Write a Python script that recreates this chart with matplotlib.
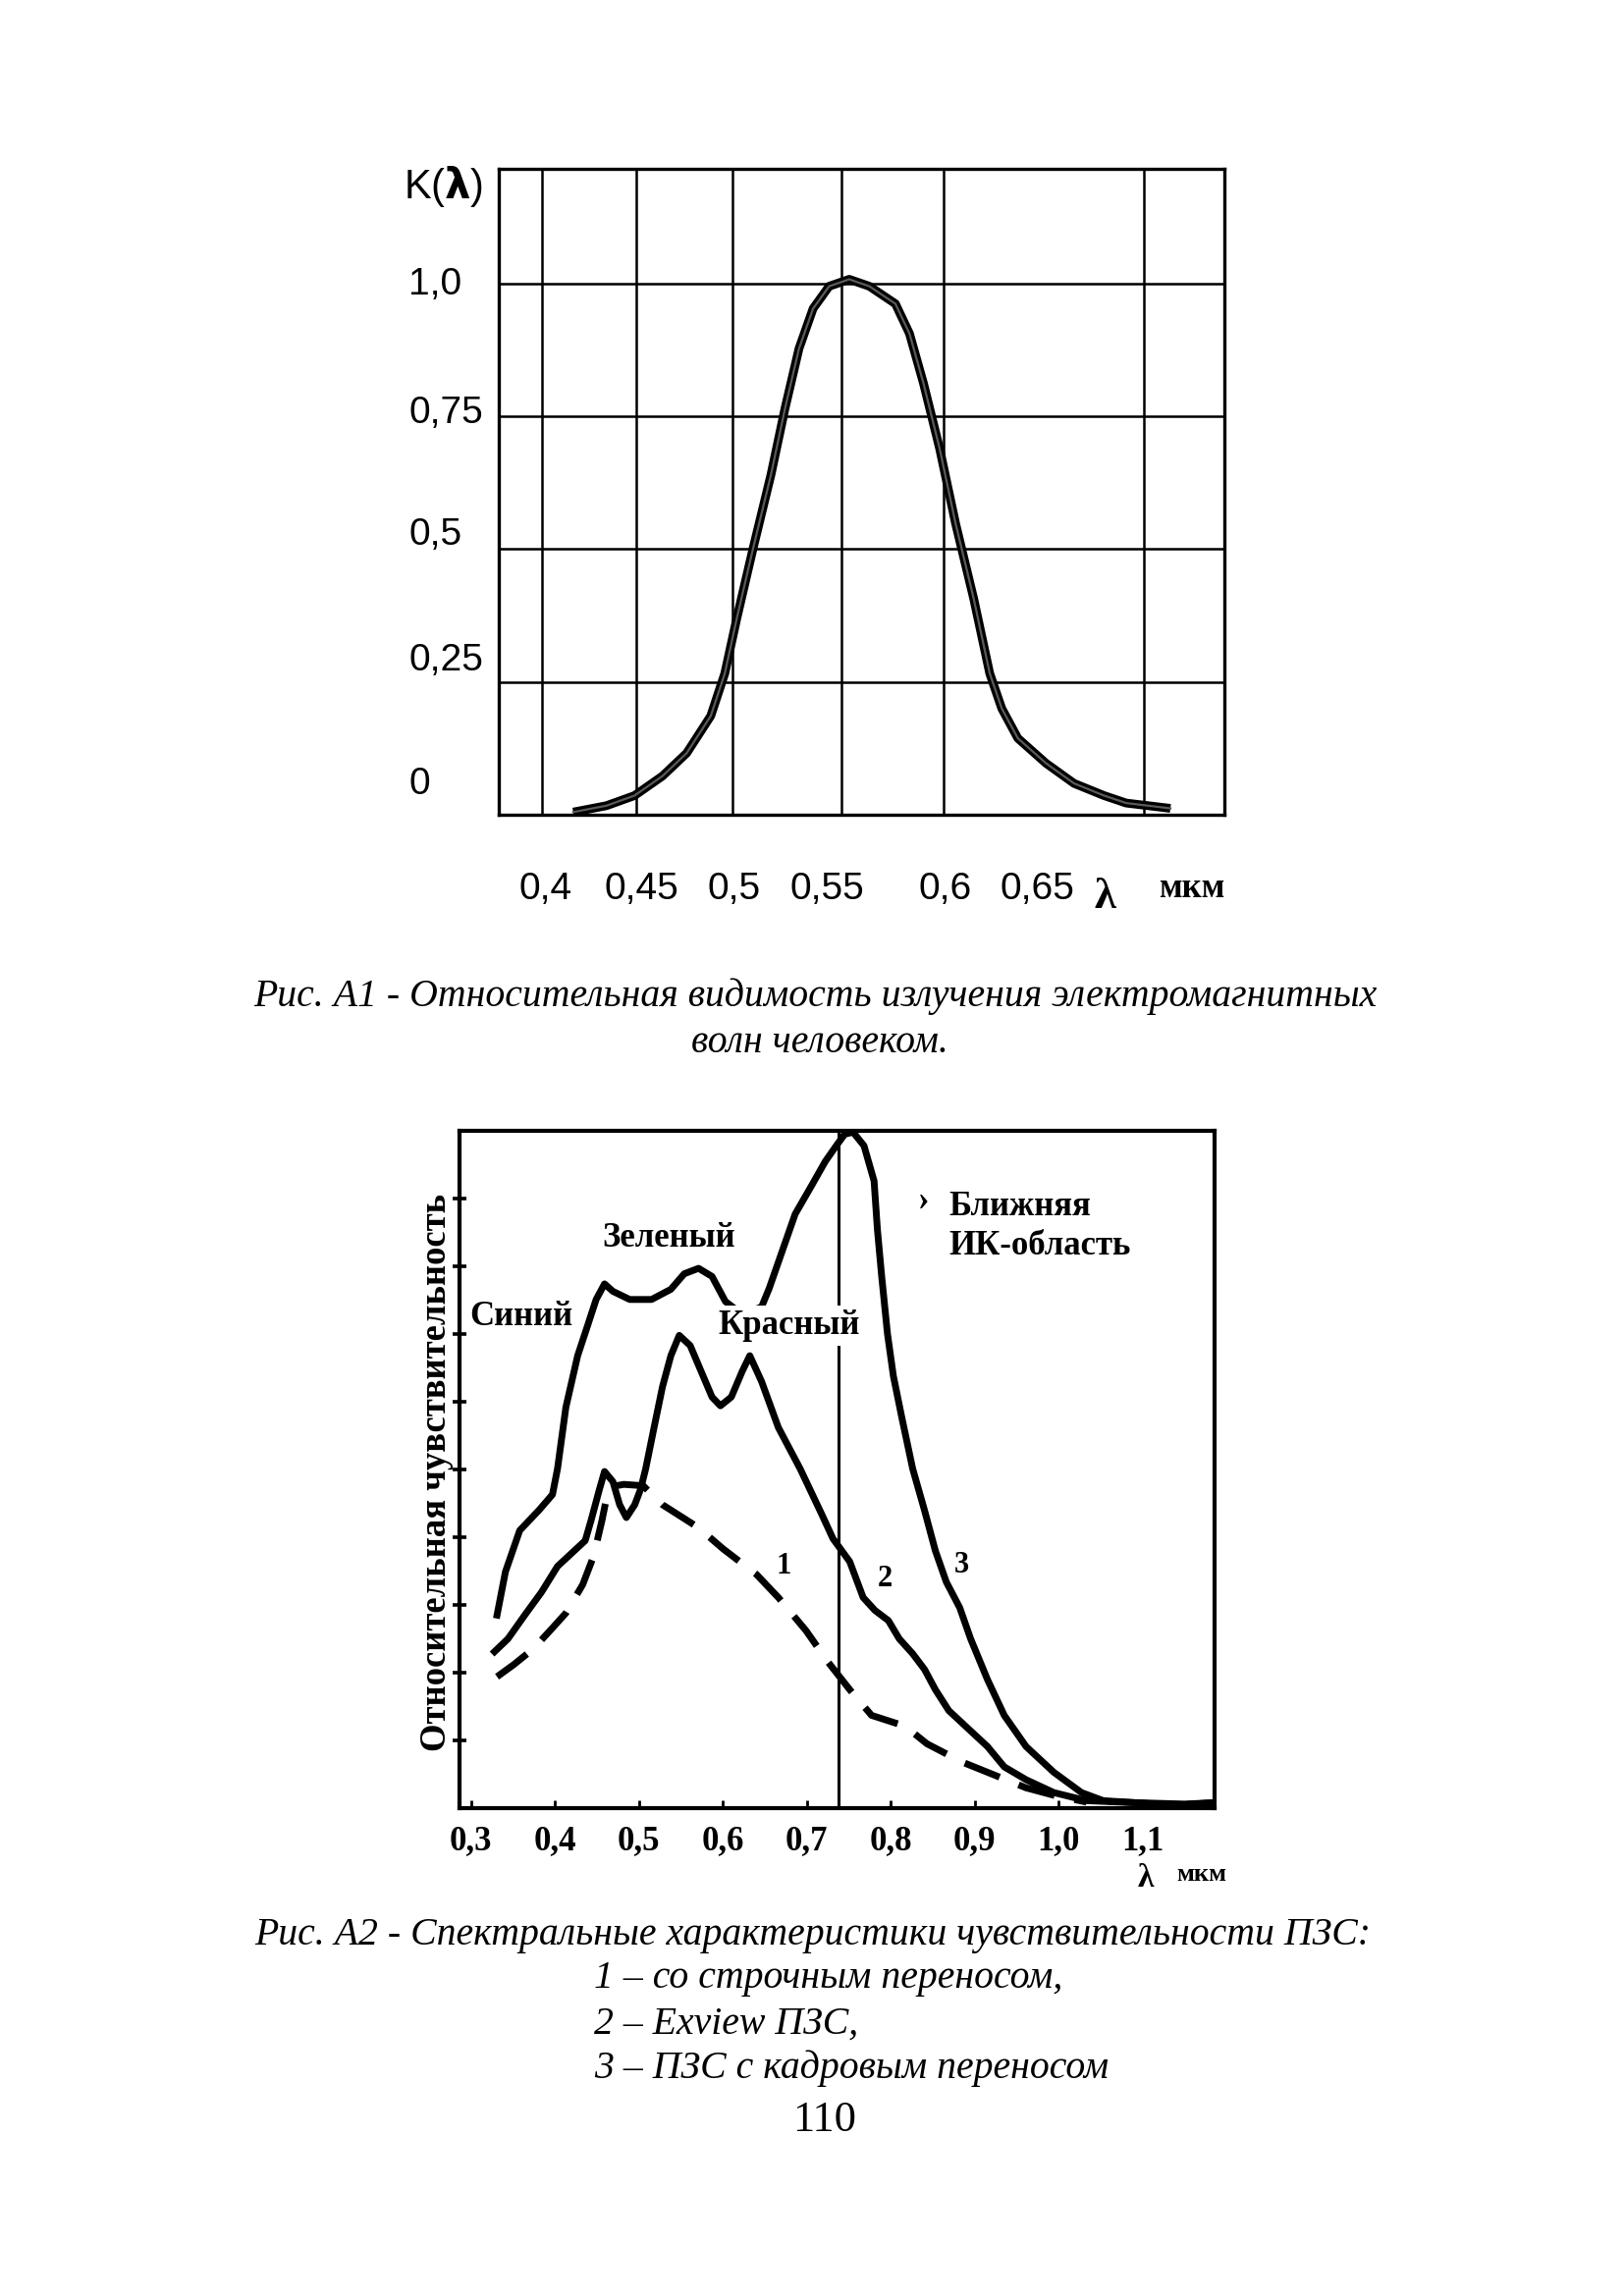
import matplotlib

matplotlib.use("Agg")
import matplotlib.pyplot as plt

W, H = 1654, 2339
DPI = 200

# --- Рис. А1: относительная видимость K(λ) ---
vis_wl = [0.4155, 0.432, 0.446, 0.460, 0.472, 0.484, 0.491, 0.497, 0.505, 0.514,
          0.521, 0.528, 0.535, 0.543, 0.553, 0.563, 0.576, 0.583, 0.590, 0.598,
          0.606, 0.615, 0.623, 0.629, 0.637, 0.651, 0.665, 0.680, 0.691, 0.713]
vis_k = [0.005, 0.017, 0.036, 0.073, 0.116, 0.186, 0.266, 0.37, 0.50, 0.64,
         0.765, 0.878, 0.953, 0.995, 1.008, 0.995, 0.962, 0.906, 0.812, 0.69,
         0.548, 0.407, 0.266, 0.20, 0.144, 0.097, 0.059, 0.036, 0.022, 0.012]
vis_grid_x = [0.4, 0.447, 0.495, 0.549, 0.6, 0.7]
vis_grid_y = [0.25, 0.5, 0.75, 1.0]
vis_xtick_pos = [0.4015, 0.4494, 0.4954, 0.5418, 0.601, 0.6467]
vis_xtick_lab = ["0,4", "0,45", "0,5", "0,55", "0,6", "0,65"]
vis_ytick_pos = [1.005, 0.764, 0.535, 0.298, 0.064]
vis_ytick_lab = ["1,0", "0,75", "0,5", "0,25", "0"]

# --- Рис. А2: спектральная чувствительность ПЗС ---
# 1 - со строчным переносом
ccd1_wl = [0.331, 0.351, 0.374, 0.397, 0.413, 0.433, 0.446, 0.456, 0.464, 0.482,
           0.505, 0.528, 0.571, 0.600, 0.640, 0.666, 0.699, 0.725, 0.751, 0.777,
           0.817, 0.843, 0.885, 0.915, 0.961, 0.994, 1.033]
ccd1_s = [0.194, 0.212, 0.235, 0.266, 0.288, 0.330, 0.372, 0.425, 0.474, 0.478,
          0.476, 0.448, 0.414, 0.383, 0.345, 0.311, 0.262, 0.216, 0.175, 0.137,
          0.121, 0.095, 0.068, 0.053, 0.030, 0.019, 0.009]
# 2 - Exview ПЗС
ccd2_wl = [0.328, 0.344, 0.364, 0.384, 0.403, 0.423, 0.436, 0.443, 0.453, 0.459,
           0.469, 0.477, 0.485, 0.495, 0.502, 0.508, 0.518, 0.528, 0.538, 0.548,
           0.561, 0.574, 0.587, 0.597, 0.610, 0.623, 0.632, 0.646, 0.666, 0.692,
           0.718, 0.731, 0.751, 0.767, 0.781, 0.797, 0.810, 0.826, 0.840, 0.853,
           0.869, 0.895, 0.915, 0.935, 0.961, 0.994, 1.033, 1.092, 1.150, 1.184]
ccd2_s = [0.231, 0.250, 0.285, 0.319, 0.357, 0.380, 0.395, 0.425, 0.471, 0.497,
          0.482, 0.448, 0.429, 0.448, 0.471, 0.501, 0.562, 0.622, 0.668, 0.698,
          0.683, 0.645, 0.607, 0.594, 0.607, 0.645, 0.668, 0.630, 0.562, 0.501,
          0.433, 0.398, 0.364, 0.311, 0.292, 0.277, 0.250, 0.228, 0.205, 0.175,
          0.144, 0.114, 0.091, 0.061, 0.042, 0.023, 0.011, 0.008, 0.006, 0.008]
# 3 - ПЗС с кадровым переносом
ccd3_wl = [0.331, 0.341, 0.358, 0.381, 0.397, 0.403, 0.413, 0.427, 0.439, 0.449,
           0.459, 0.469, 0.489, 0.515, 0.538, 0.554, 0.571, 0.587, 0.603, 0.623,
           0.646, 0.655, 0.686, 0.706, 0.722, 0.735, 0.745, 0.755, 0.768, 0.780,
           0.784, 0.789, 0.796, 0.803, 0.813, 0.826, 0.840, 0.853, 0.866, 0.882,
           0.895, 0.915, 0.935, 0.961, 0.994, 1.027, 1.053, 1.092, 1.138, 1.184]
ccd3_s = [0.285, 0.349, 0.410, 0.440, 0.463, 0.501, 0.592, 0.668, 0.713, 0.751,
          0.774, 0.763, 0.751, 0.751, 0.766, 0.789, 0.797, 0.785, 0.748, 0.729,
          0.740, 0.767, 0.877, 0.920, 0.955, 0.978, 0.995, 0.998, 0.978, 0.926,
          0.854, 0.786, 0.700, 0.638, 0.577, 0.501, 0.440, 0.380, 0.334, 0.296,
          0.250, 0.190, 0.137, 0.091, 0.053, 0.023, 0.011, 0.008, 0.004, 0.008]
ccd_xticks = [0.3, 0.4, 0.5, 0.6, 0.7, 0.8, 0.9, 1.0, 1.1]
ccd_xtick_lab = ["0,3", "0,4", "0,5", "0,6", "0,7", "0,8", "0,9", "1,0", "1,1"]
ccd_yticks = [0.1, 0.2, 0.3, 0.4, 0.5, 0.6, 0.7, 0.8, 0.9]
ir_border = 0.738

plt.rcParams["font.family"] = ["Liberation Sans", "DejaVu Sans"]
SERIF = ["Liberation Serif", "DejaVu Serif"]


def px(x, y):
    return x / W, 1 - y / H


fig = plt.figure(figsize=(W / DPI, H / DPI), dpi=DPI)
fig.patch.set_facecolor("white")

# ---------- верхний график ----------
ax1 = fig.add_axes([508 / W, 1 - 830 / H, 739 / W, 658 / H])
ax1.set_xlim(0.3784, 0.7399)
ax1.set_ylim(0, 1.216)
for gx in vis_grid_x:
    ax1.axvline(gx, color="black", lw=0.9, zorder=1)
for gy in vis_grid_y:
    ax1.axhline(gy, color="black", lw=0.9, zorder=1)
ax1.plot(vis_wl, vis_k, color="black", lw=3.2, solid_capstyle="butt", zorder=3)
ax1.plot(vis_wl, vis_k, color="#5a5a5a", lw=0.8, zorder=4)
for s in ax1.spines.values():
    s.set_linewidth(1.2)
ax1.set_xticks(vis_xtick_pos, vis_xtick_lab)
ax1.set_yticks(vis_ytick_pos, vis_ytick_lab)
ax1.tick_params(axis="x", length=0, pad=21, labelsize=14)
ax1.tick_params(axis="y", length=0, pad=33, labelsize=14)
for lab in ax1.get_yticklabels():
    lab.set_horizontalalignment("left")

fig.text(*px(411, 190), r"K($\boldsymbol{\lambda}$)", fontsize=15, ha="left", va="center")
fig.text(*px(1125, 914), "λ", fontsize=16, fontweight="bold", family=SERIF,
         ha="center", va="center")
fig.text(*px(1180, 906), "мкм", fontsize=12.5, fontweight="bold", family=SERIF,
         ha="left", va="center")

cap = dict(fontsize=14.3, style="italic", family=SERIF, va="center")
fig.text(*px(830, 1015), "Рис. А1 - Относительная видимость излучения электромагнитных",
         ha="center", **cap)
fig.text(*px(835, 1063), "волн человеком.", ha="center", **cap)

# ---------- нижний график ----------
ax2 = fig.add_axes([468 / W, 1 - 1842 / H, 769 / W, 690 / H])
ax2.set_xlim(0.2863, 1.1855)
ax2.set_ylim(0, 1)
ax2.axvline(ir_border, color="black", lw=1.1, zorder=1)
ax2.plot(ccd1_wl, ccd1_s, color="black", lw=2.5, dashes=(5.5, 3.0),
         dash_capstyle="butt", zorder=3)
ax2.plot(ccd2_wl, ccd2_s, color="black", lw=2.5, zorder=3)
ax2.plot(ccd3_wl, ccd3_s, color="black", lw=2.5, zorder=3)
for s in ax2.spines.values():
    s.set_linewidth(1.5)
ax2.set_xticks(ccd_xticks, ccd_xtick_lab)
ax2.set_yticks(ccd_yticks, [])
ax2.tick_params(axis="x", direction="in", length=3, width=1.0, pad=6)
ax2.tick_params(axis="y", direction="inout", length=5, width=1.3)
for lab in ax2.get_xticklabels():
    lab.set_fontfamily(SERIF)
    lab.set_fontweight("bold")
    lab.set_fontsize(12.5)

lbl = dict(fontsize=12.5, fontweight="bold", family=SERIF, va="center", zorder=5)
ax2.text(0.360, 0.725, "Синий", ha="center", **lbl)
ax2.text(0.536, 0.841, "Зеленый", ha="center", **lbl)
ax2.text(0.679, 0.712, "Красный", ha="center",
         bbox=dict(facecolor="white", edgecolor="none", pad=1.5), **lbl)
ax2.text(0.839, 0.896, "›", ha="center", **lbl)
ax2.text(0.869, 0.887, "Ближняя", ha="left", **lbl)
ax2.text(0.869, 0.829, "ИК-область", ha="left", **lbl)
num = dict(fontsize=11, fontweight="bold", family=SERIF, ha="center", va="center")
ax2.text(0.672, 0.357, "1", **num)
ax2.text(0.793, 0.338, "2", **num)
ax2.text(0.884, 0.358, "3", **num)

fig.text(*px(445, 1500), "Относительная чувствительность", rotation=90,
         fontsize=13.2, fontweight="bold", family=SERIF, ha="center", va="center")
fig.text(*px(1167, 1913), "λ", fontsize=12, fontweight="bold", family=SERIF,
         ha="center", va="center")
fig.text(*px(1198, 1910), "мкм", fontsize=9.5, fontweight="bold", family=SERIF,
         ha="left", va="center")

fig.text(*px(828, 1971), "Рис. А2 - Спектральные характеристики чувствительности ПЗС:",
         ha="center", **cap)
fig.text(*px(605, 2016), "1 – со строчным переносом,", ha="left", **cap)
fig.text(*px(605, 2062), "2 – Exview ПЗС,", ha="left", **cap)
fig.text(*px(605, 2107), "3 – ПЗС с кадровым переносом", ha="left", **cap)

fig.text(*px(840, 2160), "110", fontsize=16, family=SERIF, ha="center", va="center")

fig.savefig("out.png", dpi=DPI, facecolor="white")
